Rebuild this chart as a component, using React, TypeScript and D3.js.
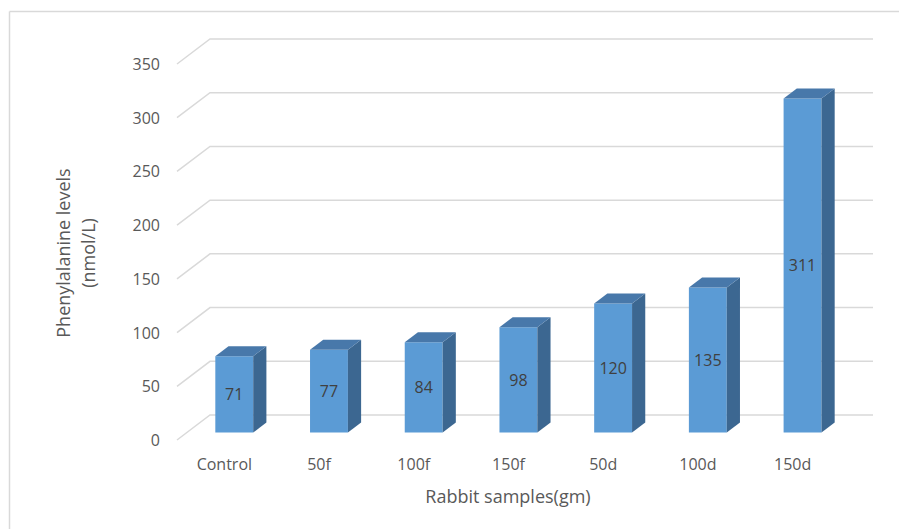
import React from "react";
import * as d3 from "d3";

const categories = ["Control", "50f", "100f", "150f", "50d", "100d", "150d"];
const values = [71, 77, 84, 98, 120, 135, 311];
const yTicks = [0, 50, 100, 150, 200, 250, 300, 350];
const yTitleLines = ["Phenylalanine levels", "(nmol/L)"];
const xTitle = "Rabbit samples(gm)";

const W = 899;
const H = 529;
const FRONT_LEFT = 177;
const FRONT_RIGHT = 840;
const FLOOR_Y = 440;
const DEPTH_X = 33;
const DEPTH_Y = -25;
const BAR_F0 = 0.3;
const BAR_F1 = 0.7;
const FONT = "'Open Sans', sans-serif";

export default function App() {
  const x = d3
    .scaleBand<string>()
    .domain(categories)
    .range([FRONT_LEFT, FRONT_RIGHT])
    .paddingInner(0.6)
    .paddingOuter(0.3);
  const xCenter = d3
    .scaleBand<string>()
    .domain(categories)
    .range([FRONT_LEFT, FRONT_RIGHT]);
  const h = d3.scaleLinear().domain([0, 350]).range([0, 376]);

  const proj = (px: number, v: number, f: number): [number, number] => [
    px + DEPTH_X * f,
    FLOOR_Y + DEPTH_Y * f - h(v),
  ];
  const pts = (a: [number, number][]) => a.map((p) => p.join(",")).join(" ");

  const bw = x.bandwidth();

  return (
    <svg
      width={W}
      height={H}
      style={{ position: "absolute", left: 0, top: 0, background: "#fff" }}
    >
      <line x1={9.5} y1={11.5} x2={W} y2={11.5} stroke="#D9D9D9" strokeWidth={1.5} />
      <line x1={9.5} y1={11.5} x2={9.5} y2={H} stroke="#D9D9D9" strokeWidth={1.5} />

      {yTicks.map((t) => {
        const a = proj(FRONT_LEFT, t, 0);
        const b = proj(FRONT_LEFT, t, 1);
        const c = proj(FRONT_RIGHT, t, 1);
        return (
          <g key={t}>
            <polyline
              points={pts([a, b, c])}
              fill="none"
              stroke="#D9D9D9"
              strokeWidth={1.5}
            />
            <text
              x={160}
              y={a[1]}
              textAnchor="end"
              dominantBaseline="central"
              fontFamily={FONT}
              fontSize={16}
              fill="#595959"
            >
              {t}
            </text>
          </g>
        );
      })}

      {categories.map((c, i) => {
        const v = values[i];
        const x1 = x(c)!;
        const x2 = x1 + bw;
        const fb = proj(x1, 0, BAR_F0);
        const ft = proj(x1, v, BAR_F0);
        const rb = proj(x2, 0, BAR_F0);
        const rt = proj(x2, v, BAR_F0);
        const rbB = proj(x2, 0, BAR_F1);
        const rtB = proj(x2, v, BAR_F1);
        const ltB = proj(x1, v, BAR_F1);
        const mid = proj(x1 + bw / 2, v / 2, BAR_F0);
        return (
          <g key={c}>
            <polygon points={pts([fb, ft, rt, rb])} fill="#5B9BD5" />
            <polygon points={pts([rb, rt, rtB, rbB])} fill="#3C6791" />
            <polygon points={pts([ft, rt, rtB, ltB])} fill="#4878AA" />
            <text
              x={mid[0]}
              y={mid[1]}
              textAnchor="middle"
              dominantBaseline="central"
              fontFamily={FONT}
              fontSize={16}
              fill="#404040"
            >
              {v}
            </text>
            <text
              x={xCenter(c)! + xCenter.bandwidth() / 2}
              y={464}
              textAnchor="middle"
              dominantBaseline="central"
              fontFamily={FONT}
              fontSize={16}
              fill="#595959"
            >
              {c}
            </text>
          </g>
        );
      })}

      <text
        transform="translate(63,253) rotate(-90)"
        textAnchor="middle"
        dominantBaseline="central"
        fontFamily={FONT}
        fontSize={18}
        fill="#595959"
      >
        {yTitleLines[0]}
      </text>
      <text
        transform="translate(88,253) rotate(-90)"
        textAnchor="middle"
        dominantBaseline="central"
        fontFamily={FONT}
        fontSize={18}
        fill="#595959"
      >
        {yTitleLines[1]}
      </text>
      <text
        x={508}
        y={496}
        textAnchor="middle"
        dominantBaseline="central"
        fontFamily={FONT}
        fontSize={18}
        fill="#595959"
      >
        {xTitle}
      </text>
    </svg>
  );
}
